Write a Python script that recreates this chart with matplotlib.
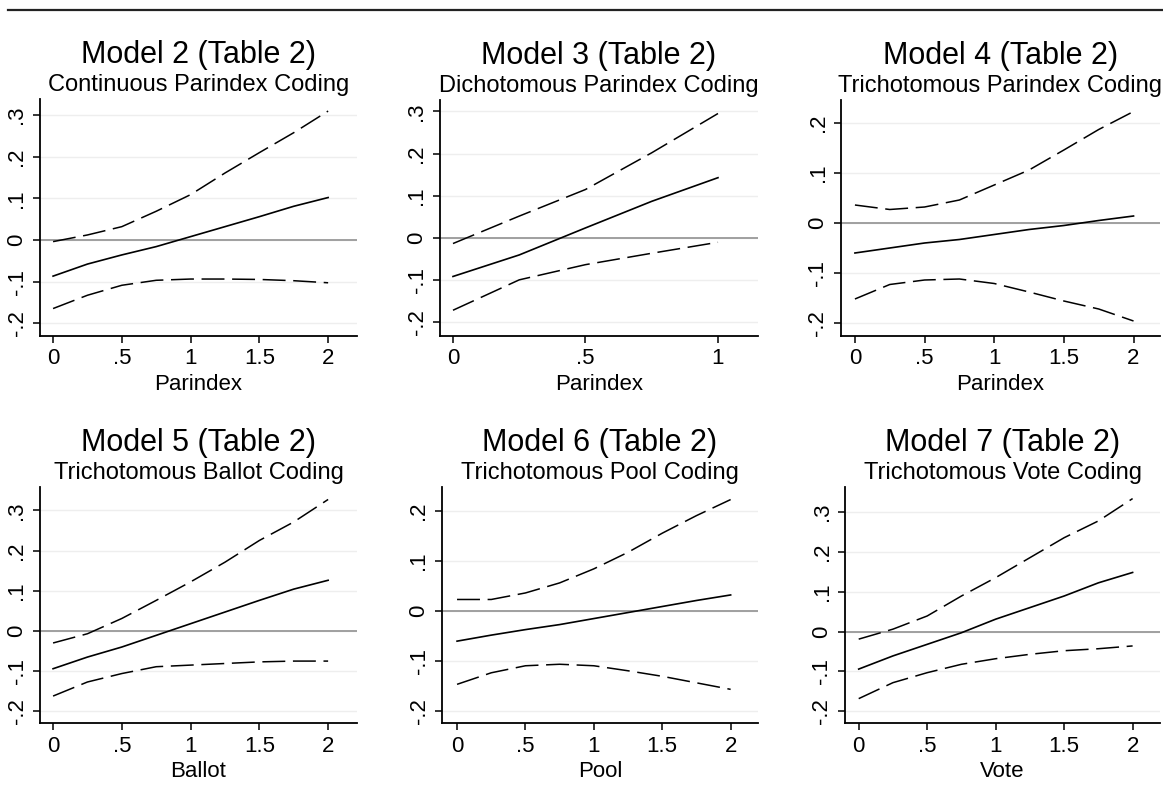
import matplotlib
matplotlib.use("Agg")
import matplotlib.pyplot as plt
from matplotlib.lines import Line2D

plt.rcParams['font.family'] = ['Liberation Sans', 'DejaVu Sans']

# datos
titulos = ["Model 2 (Table 2)", "Model 3 (Table 2)", "Model 4 (Table 2)",
           "Model 5 (Table 2)", "Model 6 (Table 2)", "Model 7 (Table 2)"]
subtitulos = ["Continuous Parindex Coding", "Dichotomous Parindex Coding",
              "Trichotomous Parindex Coding", "Trichotomous Ballot Coding",
              "Trichotomous Pool Coding", "Trichotomous Vote Coding"]
etiquetas_x = ["Parindex", "Parindex", "Parindex", "Ballot", "Pool", "Vote"]

x_tri = [0, 0.25, 0.5, 0.75, 1, 1.25, 1.5, 1.75, 2]
x_dic = [0, 0.25, 0.5, 0.75, 1]

m2_est = [-0.087, -0.058, -0.036, -0.016, 0.008, 0.032, 0.056, 0.081, 0.102]
m2_sup = [-0.004, 0.012, 0.032, 0.069, 0.109, 0.161, 0.210, 0.258, 0.310]
m2_inf = [-0.165, -0.133, -0.109, -0.097, -0.094, -0.094, -0.095, -0.098, -0.103]

m3_est = [-0.091, -0.040, 0.024, 0.087, 0.143]
m3_sup = [-0.013, 0.052, 0.115, 0.202, 0.295]
m3_inf = [-0.171, -0.099, -0.063, -0.036, -0.010]

m4_est = [-0.060, -0.050, -0.040, -0.033, -0.023, -0.013, -0.005, 0.005, 0.014]
m4_sup = [0.036, 0.027, 0.032, 0.046, 0.076, 0.106, 0.146, 0.187, 0.223]
m4_inf = [-0.152, -0.123, -0.114, -0.112, -0.121, -0.138, -0.156, -0.172, -0.196]

m5_est = [-0.094, -0.065, -0.040, -0.011, 0.018, 0.047, 0.076, 0.104, 0.126]
m5_sup = [-0.030, -0.007, 0.031, 0.076, 0.122, 0.171, 0.225, 0.271, 0.327]
m5_inf = [-0.162, -0.127, -0.106, -0.089, -0.085, -0.081, -0.077, -0.075, -0.075]

m6_est = [-0.060, -0.048, -0.037, -0.027, -0.015, -0.003, 0.009, 0.021, 0.032]
m6_sup = [0.023, 0.023, 0.036, 0.056, 0.084, 0.117, 0.155, 0.190, 0.222]
m6_inf = [-0.146, -0.123, -0.109, -0.106, -0.109, -0.119, -0.130, -0.143, -0.156]

m7_est = [-0.094, -0.061, -0.032, -0.003, 0.031, 0.060, 0.089, 0.122, 0.148]
m7_sup = [-0.019, 0.006, 0.039, 0.089, 0.135, 0.185, 0.235, 0.277, 0.333]
m7_inf = [-0.168, -0.128, -0.103, -0.082, -0.068, -0.057, -0.048, -0.043, -0.036]

xs = [x_tri, x_dic, x_tri, x_tri, x_tri, x_tri]
ests = [m2_est, m3_est, m4_est, m5_est, m6_est, m7_est]
sups = [m2_sup, m3_sup, m4_sup, m5_sup, m6_sup, m7_sup]
infs = [m2_inf, m3_inf, m4_inf, m5_inf, m6_inf, m7_inf]

xticks_tri = [0, 0.5, 1, 1.5, 2]
xticks_dic = [0, 0.5, 1]
yticks_a = [-0.2, -0.1, 0, 0.1, 0.2, 0.3]
yticks_b = [-0.2, -0.1, 0, 0.1, 0.2]

def fmt(v):
    if v == 0:
        return "0"
    s = f"{v:g}"
    return s.replace("0.", ".")

# posiciones en pixeles: (izq, der, arriba, abajo)
W, H = 1163, 802
cajas = [(40, 357, 99, 336), (440, 758, 100, 336), (841, 1160, 100, 336),
         (40, 357, 487, 723), (442, 758, 487, 723), (845, 1160, 487, 723)]
xlims = [(-0.095, 2.21), (-0.049, 1.151), (-0.10, 2.19),
         (-0.095, 2.21), (-0.11, 2.20), (-0.10, 2.20)]
ylims = [(-0.231, 0.339), (-0.232, 0.327), (-0.226, 0.246),
         (-0.229, 0.358), (-0.223, 0.247), (-0.229, 0.362)]
yticks_l = [yticks_a, yticks_a, yticks_b, yticks_a, yticks_b, yticks_a]
xticks_l = [xticks_tri, xticks_dic, xticks_tri, xticks_tri, xticks_tri, xticks_tri]

fig = plt.figure(figsize=(W / 100, H / 100), dpi=100)

for i in range(6):
    l, r, t, b = cajas[i]
    ax = fig.add_axes([l / W, 1 - b / H, (r - l) / W, (b - t) / H])
    ax.set_xlim(*xlims[i])
    ax.set_ylim(*ylims[i])
    for yt in yticks_l[i]:
        ax.axhline(yt, color="#eeeeee", lw=1.0, zorder=0)
    ax.axhline(0, color="#999999", lw=1.3, zorder=1)
    ax.plot(xs[i], ests[i], color="black", lw=1.2, zorder=3)
    ax.plot(xs[i], sups[i], color="black", lw=1.1, dashes=(15, 5), zorder=3)
    ax.plot(xs[i], infs[i], color="black", lw=1.1, dashes=(15, 5), zorder=3)

    ax.set_xticks(xticks_l[i])
    ax.set_xticklabels([fmt(v) for v in xticks_l[i]], fontsize=16)
    ax.set_yticks(yticks_l[i])
    ax.set_yticklabels([fmt(v) for v in yticks_l[i]], fontsize=16,
                       rotation=90, va="center")
    ax.tick_params(direction="out", length=5, width=1.1, color="black", pad=4)
    for s in ["top", "right"]:
        ax.spines[s].set_visible(False)
    for s in ["left", "bottom"]:
        ax.spines[s].set_linewidth(1.3)
    ax.set_xlabel(etiquetas_x[i], fontsize=16, labelpad=3)
    ax.text(0.5, 1.0 + 44 / (b - t), titulos[i], transform=ax.transAxes,
            ha="center", va="center", fontsize=22)
    ax.text(0.5, 1.0 + 14 / (b - t), subtitulos[i], transform=ax.transAxes,
            ha="center", va="center", fontsize=17)

fig.add_artist(Line2D([8 / W, 1], [1 - 10 / H, 1 - 10 / H], color="#222222", lw=1.6))

plt.savefig("out.png", dpi=100)
